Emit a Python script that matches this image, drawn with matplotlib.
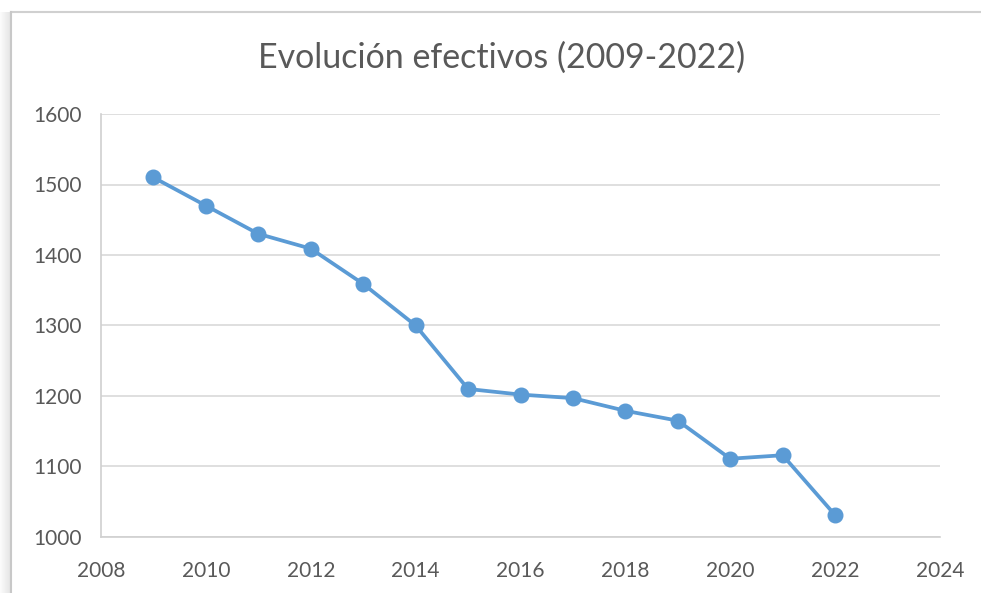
import numpy as np
import matplotlib
matplotlib.use('Agg')
import matplotlib.pyplot as plt
from matplotlib.lines import Line2D
from matplotlib.patches import Rectangle

years = [2009, 2010, 2011, 2012, 2013, 2014, 2015, 2016, 2017, 2018, 2019, 2020, 2021, 2022]
efectivos = [1510, 1470, 1430, 1409, 1359, 1300, 1210, 1202, 1197, 1179, 1165, 1111, 1116, 1031]
x_ticks = [2008, 2010, 2012, 2014, 2016, 2018, 2020, 2022, 2024]
y_ticks = [1000, 1100, 1200, 1300, 1400, 1500, 1600]
title = 'Evolución efectivos (2009-2022)'

plt.rcParams['font.family'] = ['Lato', 'DejaVu Sans']

W, H = 981, 593
fig = plt.figure(figsize=(W/100, H/100), dpi=100)
fig.patch.set_facecolor('white')

# screenshot frame: shadow on the left, thin gray border on top/left
for i in range(11):
    a = 0.05 + 0.03*i
    fig.add_artist(Rectangle((i/W, 0), 1/W, 1 - 12/H, transform=fig.transFigure,
                             facecolor=(0.5, 0.5, 0.5, a*0.6), edgecolor='none'))
fig.add_artist(Line2D([11/W, 1], [1 - 12/H, 1 - 12/H], transform=fig.transFigure,
                      color='#d0d0d0', lw=1.5))
fig.add_artist(Line2D([11/W, 11/W], [0, 1 - 12/H], transform=fig.transFigure,
                      color='#c8c8c8', lw=1.5))

ax = fig.add_axes([101/W, 1 - 537/H, (940 - 101)/W, (537 - 114)/H])
ax.plot(years, efectivos, color='#5B9BD5', lw=2.7, marker='o', ms=10.5,
        markeredgecolor='#5B9BD5', zorder=3)

ax.set_xlim(2008, 2024)
ax.set_ylim(1000, 1600)
ax.set_xticks(x_ticks)
ax.set_yticks(y_ticks)
ax.grid(axis='y', color='#d9d9d9', lw=1.2)
ax.set_axisbelow(True)
for s in ['top', 'right']:
    ax.spines[s].set_visible(False)
for s in ['left', 'bottom']:
    ax.spines[s].set_color('#d0d0d0')
    ax.spines[s].set_linewidth(1.2)
ax.tick_params(length=0, labelsize=15, labelcolor='#595959')
ax.tick_params(axis='y', pad=14)
ax.tick_params(axis='x', pad=17)

fig.text(502/W, 1 - 58/H, title, ha='center', va='center', fontsize=24.5, color='#595959')

fig.savefig('out.png', dpi=100)
